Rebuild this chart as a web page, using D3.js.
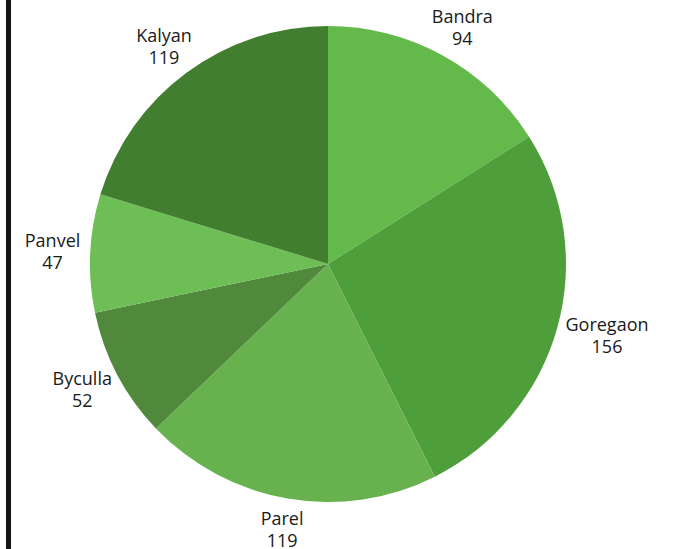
<!DOCTYPE html>
<html><head><meta charset="utf-8">
<script src="https://cdn.jsdelivr.net/npm/d3@7"></script>
<style>body{margin:0;background:#fff}svg{display:block}</style>
</head><body>
<script>
const categories = ["Bandra","Goregaon","Parel","Byculla","Panvel","Kalyan"];
const values = [94,156,119,52,47,119];
const colors = ["#63b94a","#4f9e3c","#67b24f","#50883c","#6dbe55","#417e30"];

const W = 675, H = 549, cx = 328, cy = 264, R = 238;
const svg = d3.select("body").append("svg").attr("width", W).attr("height", H);
svg.append("rect").attr("x", 6).attr("y", 0).attr("width", 5).attr("height", H).attr("fill", "#161418");

const data = categories.map((c, i) => ({name: c, value: values[i], color: colors[i]}));
const pie = d3.pie().value(d => d.value).sort(null);
const arc = d3.arc().innerRadius(0).outerRadius(R);
const g = svg.append("g").attr("transform", `translate(${cx},${cy})`);
const arcs = pie(data);
g.selectAll("path").data(arcs).join("path").attr("d", arc).attr("fill", d => d.data.color);

const fontFamily = "'Open Sans', sans-serif";
const lineGap = 22;
const lbl = g.selectAll("g.lbl").data(arcs).join("g").attr("class", "lbl");
lbl.each(function(d) {
  const sel = d3.select(this);
  const t = sel.append("text").attr("text-anchor", "middle").attr("font-family", fontFamily)
    .attr("font-size", 18).attr("fill", "#1a1a1a");
  t.append("tspan").attr("x", 0).attr("y", -lineGap/2).attr("dy", "0.35em").text(d.data.name);
  t.append("tspan").attr("x", 0).attr("y", lineGap/2).attr("dy", "0.35em").text(d.data.value);
  const w = t.node().getBBox().width;
  const h = 44;
  const a = (d.startAngle + d.endAngle) / 2;
  const s = Math.sin(a), c = Math.cos(a);
  const rp = R + 10;
  const x = rp * s + s * w / 2;
  const y = -rp * c - c * h / 2;
  sel.attr("transform", `translate(${x},${y})`);
});
</script>
</body></html>
